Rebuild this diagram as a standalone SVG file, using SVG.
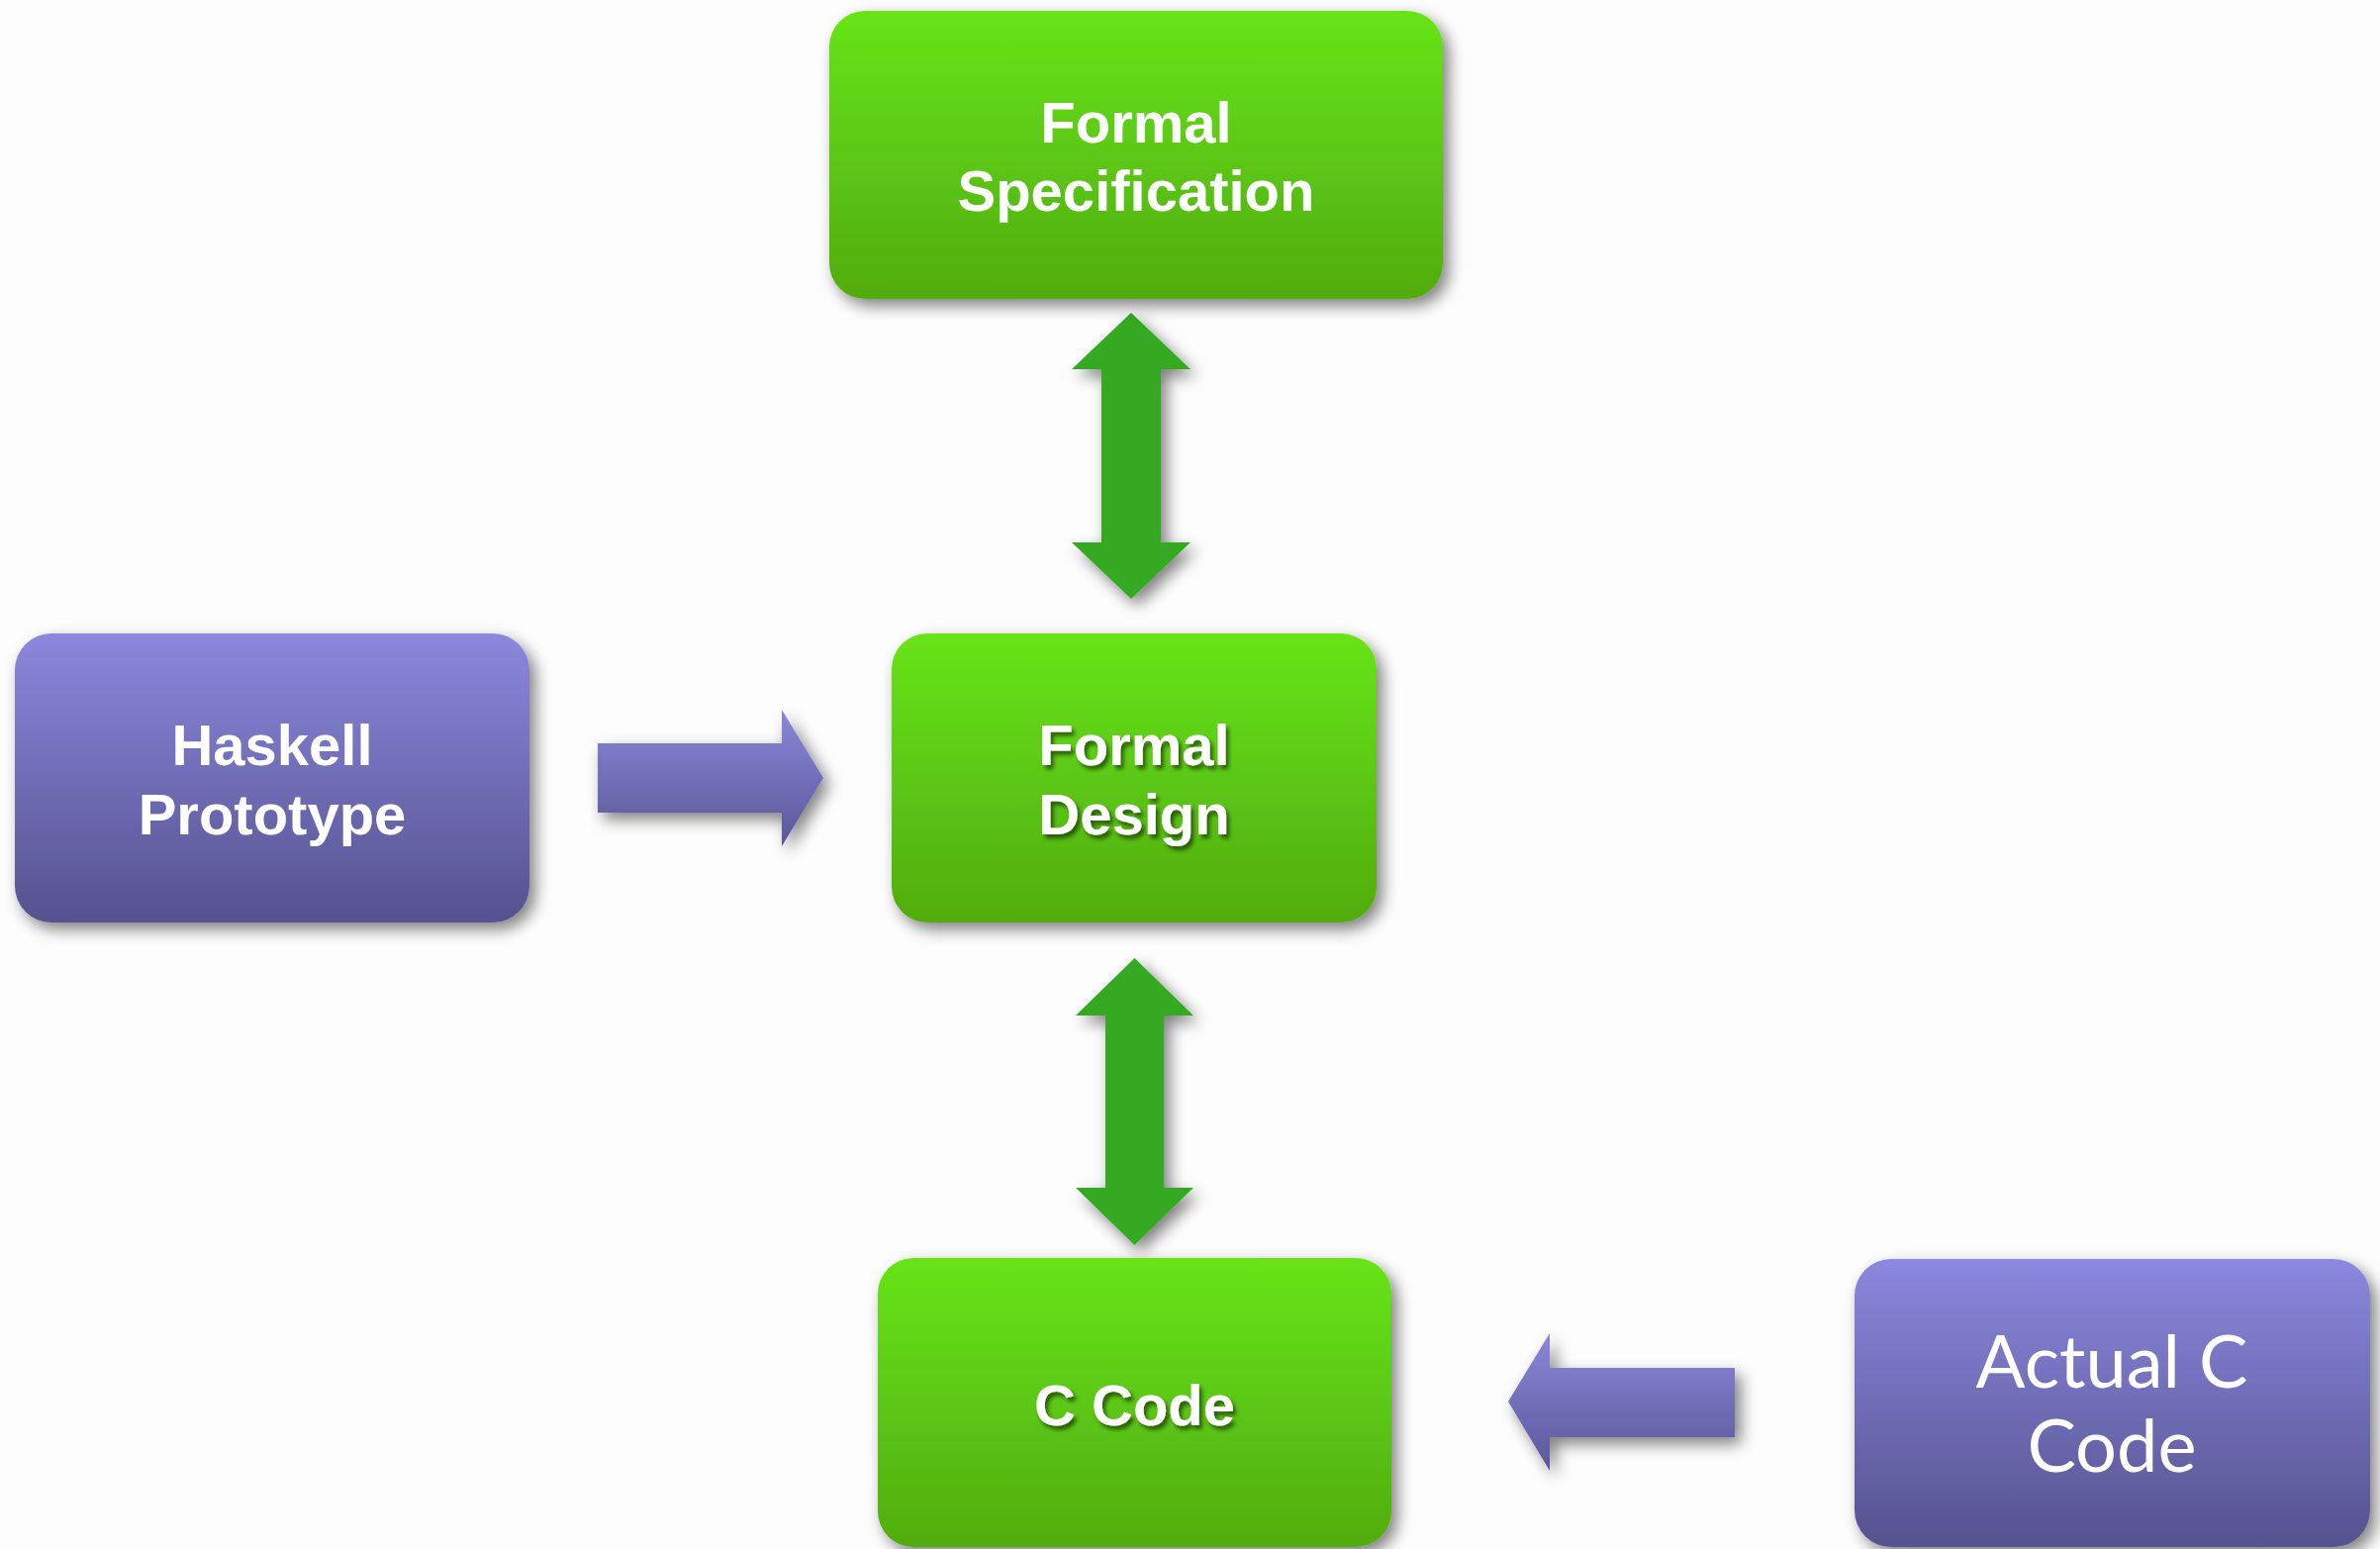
<svg xmlns="http://www.w3.org/2000/svg" width="2405" height="1565" viewBox="0 0 2405 1565">
  <defs>
    <linearGradient id="gGreen" x1="0" y1="0" x2="0" y2="1">
      <stop offset="0" stop-color="#67E415"/>
      <stop offset="1" stop-color="#51AC10"/>
    </linearGradient>
    <linearGradient id="gPurple" x1="0" y1="0" x2="0" y2="1">
      <stop offset="0" stop-color="#8B88DE"/>
      <stop offset="1" stop-color="#55528F"/>
    </linearGradient>
    <linearGradient id="gPurpleArrow" x1="0" y1="0" x2="0" y2="1">
      <stop offset="0" stop-color="#8A87D8"/>
      <stop offset="1" stop-color="#5A5799"/>
    </linearGradient>
    <filter id="dropShadow" x="-20%" y="-20%" width="140%" height="140%">
      <feGaussianBlur in="SourceAlpha" stdDeviation="8"/>
      <feOffset dx="6" dy="7" result="blur"/>
      <feComponentTransfer><feFuncA type="linear" slope="0.5"/></feComponentTransfer>
      <feMerge><feMergeNode/><feMergeNode in="SourceGraphic"/></feMerge>
    </filter>
    <filter id="textShadow" x="-10%" y="-20%" width="120%" height="150%">
      <feGaussianBlur in="SourceAlpha" stdDeviation="2"/>
      <feOffset dx="3" dy="4"/>
      <feComponentTransfer><feFuncA type="linear" slope="0.55"/></feComponentTransfer>
      <feMerge><feMergeNode/><feMergeNode in="SourceGraphic"/></feMerge>
    </filter>
  </defs>
  <style>
    .green { fill: url(#gGreen); filter: url(#dropShadow); }
    .purple { fill: url(#gPurple); filter: url(#dropShadow); }
    .label { font-family: "Liberation Sans", Arial, sans-serif; font-weight: bold; font-size: 58px; fill: #FFFFFF; text-anchor: middle; }
    .shadowed { filter: url(#textShadow); }
    .plain { font-family: Lato, "Open Sans", sans-serif; font-size: 74px; fill: #FFFFFF; text-anchor: middle; }
    .gArrow { fill: #35A922; filter: url(#dropShadow); }
    .pArrow { fill: url(#gPurpleArrow); filter: url(#dropShadow); }
  </style>

  <rect x="0" y="0" width="2405" height="1565" fill="#FDFDFD"/>

  <g id="connectors">
    <path class="gArrow" d="M1143,316 L1203,373 L1173,373 L1173,548 L1203,548 L1143,605 L1083,548 L1113,548 L1113,373 L1083,373 Z"/>
    <path class="gArrow" d="M1146.5,968 L1206,1026 L1176,1026 L1176,1200 L1206,1200 L1146.5,1258 L1087,1200 L1117,1200 L1117,1026 L1087,1026 Z"/>
    <path class="pArrow" d="M604,751 L790,751 L790,717 L832,786 L790,855 L790,821 L604,821 Z"/>
    <path class="pArrow" d="M1753,1382 L1566,1382 L1566,1347 L1524,1416 L1566,1486 L1566,1452 L1753,1452 Z"/>
  </g>

  <g id="formal-specification">
    <rect class="green" x="838" y="11" width="620" height="291" rx="36"/>
    <text class="label" x="1148" y="144">Formal</text>
    <text class="label" x="1148" y="213">Specification</text>
  </g>

  <g id="haskell-prototype">
    <rect class="purple" x="15" y="640" width="520" height="292" rx="37"/>
    <text class="label" x="275" y="773">Haskell</text>
    <text class="label" x="275" y="843">Prototype</text>
  </g>

  <g id="formal-design">
    <rect class="green" x="901" y="640" width="490" height="292" rx="36"/>
    <text class="label shadowed" x="1146" y="773">Formal</text>
    <text class="label shadowed" x="1146" y="843">Design</text>
  </g>

  <g id="c-code">
    <rect class="green" x="887" y="1271" width="519" height="292" rx="36"/>
    <text class="label shadowed" x="1146.5" y="1440">C Code</text>
  </g>

  <g id="actual-c-code">
    <rect class="purple" x="1874" y="1272" width="521" height="291" rx="37"/>
    <text class="plain" x="2134" y="1402">Actual C</text>
    <text class="plain" x="2134" y="1487">Code</text>
  </g>
</svg>
